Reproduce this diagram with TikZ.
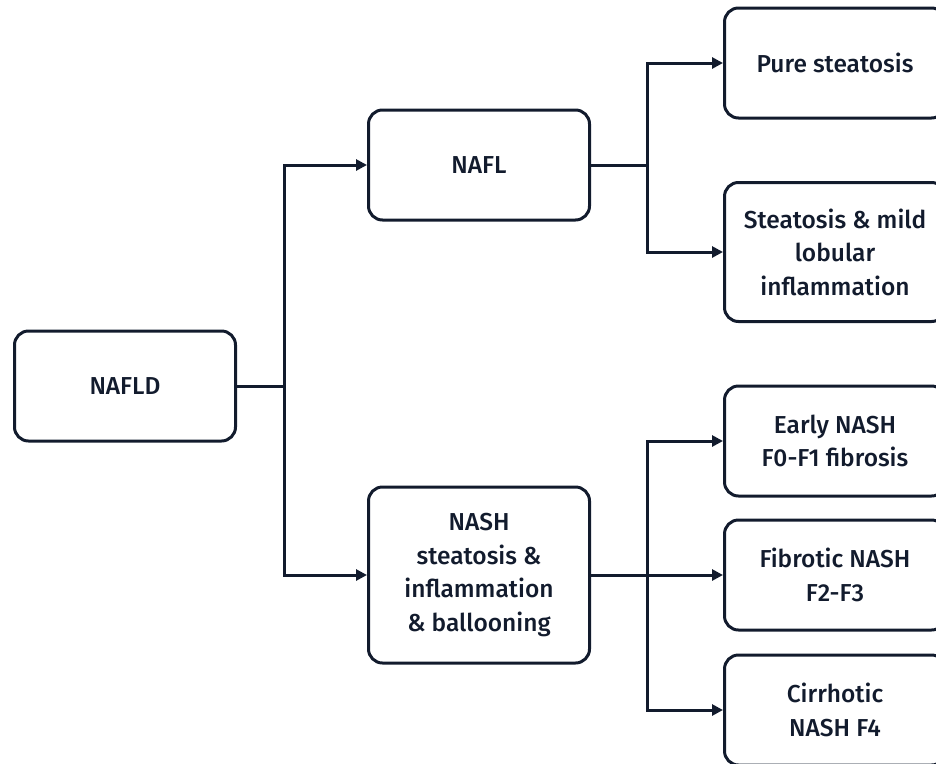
\documentclass[tikz,border=0pt]{standalone}
\usepackage{fontspec}
\setmainfont{Fira Sans Medium}
\usetikzlibrary{positioning, arrows.meta}
\definecolor{mynavy}{HTML}{121B2D}

\begin{document}
\begin{tikzpicture}
[x=1pt, y=-1pt,
 blk/.style={rectangle, rounded corners=14pt, draw=mynavy, line width=3pt,
   minimum width=221pt, minimum height=110pt, text=mynavy, align=center,
   font=\fontsize{24.5}{33.5}\selectfont},
 con/.style={line width=3pt, draw=mynavy},
 ->/.style={con, arrows={-Triangle[length=11pt, width=11pt]}}]

\useasboundingbox (0,0) rectangle (936,763);

% boxes of the tree
\node[blk] (nafld) at (125,386) {NAFLD};
\node[blk] (nafl) at (479,165) {NAFL};
\node[blk, minimum height=176pt] (nash) at (479,575) {NASH\\steatosis \&\\inflammation\\\& ballooning};
\node[blk] (pure) at (835,63) {Pure steatosis};
\node[blk, minimum height=139pt] (mild) at (835,252) {Steatosis \& mild\\lobular\\inflammation};
\node[blk] (early) at (835,441) {Early NASH\\F0-F1 fibrosis};
\node[blk] (fibro) at (835,575) {Fibrotic NASH\\F2-F3};
\node[blk] (cirr) at (835,710) {Cirrhotic\\NASH F4};

% branching points
\coordinate (j1) at (284,386);
\coordinate (j2) at (647,165);
\coordinate (j3) at (647,575);

\draw [con] (nafld) -- (j1);
\draw [->] (j1) |- (nafl);
\draw [->] (j1) |- (nash);

\draw [con] (nafl) -- (j2);
\draw [->] (j2) |- (pure);
\draw [->] (j2) |- (mild);

\draw [con] (nash) -- (j3);
\draw [->] (j3) |- (early);
\draw [->] (j3) -- (fibro);
\draw [->] (j3) |- (cirr);

\end{tikzpicture}
\end{document}
